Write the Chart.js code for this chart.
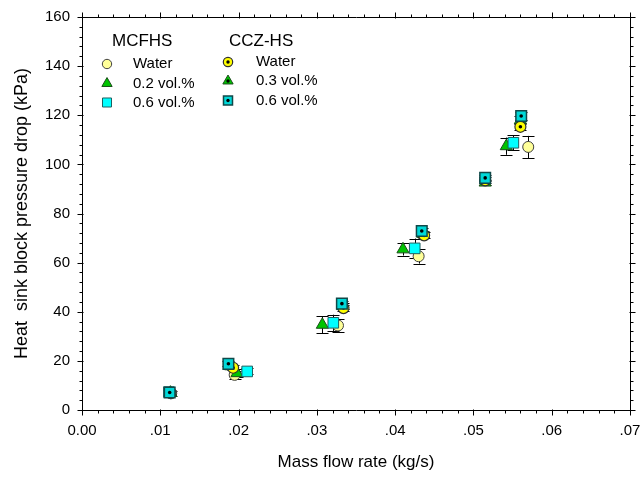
<!DOCTYPE html>
<html>
<head>
<meta charset="utf-8">
<script src="https://cdn.jsdelivr.net/npm/chart.js@4.4.0/dist/chart.umd.min.js"></script>
<style>
  body { margin: 0; background: #fff; }
  #wrap { width: 640px; height: 478px; }
</style>
</head>
<body>
<div id="wrap"><canvas id="grafico" width="640" height="478"></canvas></div>
<script>
// ---- dados ----
// MCFHS
var mcAguaX = [0.0114, 0.0195, 0.0327, 0.0430, 0.0570];
var mcAguaY = [6.8, 14.3, 34.4, 62.6, 107.1];
var mcAguaErr = [1.0, 1.5, 2.5, 3.0, 4.5];
var mc02X = [0.0113, 0.0198, 0.0307, 0.0410, 0.0542];
var mc02Y = [7.0, 15.0, 34.7, 65.4, 107.4];
var mc02Err = [1.0, 1.5, 3.5, 2.5, 3.5];
var mc06X = [0.0111, 0.0211, 0.0321, 0.0425, 0.0551];
var mc06Y = [7.3, 15.7, 35.5, 65.8, 108.8];
var mc06Err = [1.0, 1.2, 3.3, 4.0, 3.0];
// CCZ-HS
var czAguaX = [0.0113, 0.0193, 0.0334, 0.0437, 0.0515, 0.0560];
var czAguaY = [6.9, 17.2, 41.5, 71.1, 93.5, 115.3];
var czAguaErr = [0.8, 1.0, 1.2, 1.2, 1.2, 1.5];
var cz03X = [0.0113, 0.0190, 0.0333, 0.0435, 0.0515, 0.0560];
var cz03Y = [7.0, 17.8, 42.3, 71.8, 92.6, 118.0];
var cz03Err = [0.8, 1.0, 1.2, 1.2, 1.2, 1.5];
var cz06X = [0.0112, 0.0187, 0.0332, 0.0434, 0.0515, 0.0561];
var cz06Y = [7.1, 18.8, 43.3, 72.9, 94.5, 119.7];
var cz06Err = [0.8, 1.0, 1.2, 1.2, 1.2, 1.5];

var xTicks = [0, 0.01, 0.02, 0.03, 0.04, 0.05, 0.06, 0.07];
var yTicks = [0, 20, 40, 60, 80, 100, 120, 140, 160];

var fonte = "'Liberation Sans', Arial, sans-serif";

function pontos(xs, ys) {
  return xs.map(function (x, i) { return { x: x, y: ys[i] }; });
}

var estilos = {
  mcAgua: { pointStyle: 'circle', radius: 5.5, backgroundColor: '#ffff99', borderColor: '#404040', borderWidth: 1 },
  mc02:   { pointStyle: 'triangle', radius: 7, backgroundColor: '#00c400', borderColor: '#1a4d1a', borderWidth: 1 },
  mc06:   { pointStyle: 'rect', radius: 7.5, backgroundColor: '#00ffff', borderColor: '#206060', borderWidth: 1 },
  czAgua: { pointStyle: 'circle', radius: 5.5, backgroundColor: '#ffff00', borderColor: '#303030', borderWidth: 1.2 },
  cz03:   { pointStyle: 'triangle', radius: 7, backgroundColor: '#00c400', borderColor: '#1a4d1a', borderWidth: 1 },
  cz06:   { pointStyle: 'rect', radius: 7.5, backgroundColor: '#00d8d8', borderColor: '#104848', borderWidth: 1.5 }
};

function serie(nome, xs, ys, errs, est, ordem) {
  return {
    label: nome,
    data: pontos(xs, ys),
    erros: errs,
    order: ordem,
    showLine: false,
    pointStyle: est.pointStyle,
    pointRadius: est.radius,
    pointHoverRadius: est.radius,
    pointBackgroundColor: est.backgroundColor,
    pointBorderColor: est.borderColor,
    pointBorderWidth: est.borderWidth
  };
}

function ponto(nome, xs, ys, ordem) {
  return {
    label: nome,
    data: pontos(xs, ys),
    order: ordem,
    showLine: false,
    pointStyle: 'circle',
    pointRadius: 1.8,
    pointHoverRadius: 1.8,
    pointBackgroundColor: '#000',
    pointBorderColor: '#000',
    pointBorderWidth: 0
  };
}

// barras de erro, desenhadas antes dos marcadores
var barrasErro = {
  id: 'barrasErro',
  beforeDatasetsDraw: function (chart) {
    var ctx = chart.ctx;
    var ys = chart.scales.y;
    ctx.save();
    ctx.strokeStyle = '#000';
    ctx.lineWidth = 1;
    chart.data.datasets.forEach(function (ds, i) {
      if (!ds.erros) return;
      var meta = chart.getDatasetMeta(i);
      meta.data.forEach(function (el, j) {
        var v = ds.data[j].y, e = ds.erros[j];
        var yt = ys.getPixelForValue(v + e), yb = ys.getPixelForValue(v - e);
        var x = Math.round(el.x) + 0.5;
        ctx.beginPath();
        ctx.moveTo(x, yt); ctx.lineTo(x, yb);
        ctx.moveTo(x - 6, Math.round(yt) + 0.5); ctx.lineTo(x + 6, Math.round(yt) + 0.5);
        ctx.moveTo(x - 6, Math.round(yb) + 0.5); ctx.lineTo(x + 6, Math.round(yb) + 0.5);
        ctx.stroke();
      });
    });
    ctx.restore();
  }
};

// moldura e marcas dos eixos nos quatro lados
var moldura = {
  id: 'moldura',
  afterDraw: function (chart) {
    var ctx = chart.ctx, a = chart.chartArea;
    var xs = chart.scales.x, ys = chart.scales.y;
    var L = Math.round(a.left) + 0.5, R = Math.round(a.right) + 0.5;
    var T = Math.round(a.top) + 0.5, B = Math.round(a.bottom) + 0.5;
    ctx.save();
    ctx.strokeStyle = '#000';
    ctx.lineWidth = 1;
    ctx.beginPath();
    ctx.rect(L, T, R - L, B - T);
    ctx.stroke();
    ctx.beginPath();
    var i, px, maior;
    for (i = 0; i <= 35; i++) {
      px = Math.round(xs.getPixelForValue(i * 0.002)) + 0.5;
      maior = (i % 5 === 0);
      var c = maior ? 5 : 3;
      ctx.moveTo(px, B + c); ctx.lineTo(px, B - (maior ? 1 : 0));
      ctx.moveTo(px, T - c); ctx.lineTo(px, T + (maior ? 1 : 0));
    }
    for (i = 0; i <= 40; i++) {
      px = Math.round(ys.getPixelForValue(i * 4)) + 0.5;
      maior = (i % 5 === 0);
      var d = maior ? 5 : 3;
      ctx.moveTo(L - d, px); ctx.lineTo(L + (maior ? 1 : 0), px);
      ctx.moveTo(R + d, px); ctx.lineTo(R - (maior ? 1 : 0), px);
    }
    ctx.stroke();

    // legenda em duas colunas
    ctx.fillStyle = '#000';
    ctx.textBaseline = 'middle';
    ctx.textAlign = 'left';
    ctx.font = '17px ' + fonte;
    ctx.fillText('MCFHS', 112, 41);
    ctx.fillText('CCZ-HS', 229, 41);
    ctx.font = '15px ' + fonte;
    var col1 = [['Water', estilos.mcAgua, false], ['0.2 vol.%', estilos.mc02, false], ['0.6 vol.%', estilos.mc06, false]];
    var col2 = [['Water', estilos.czAgua, true], ['0.3 vol.%', estilos.cz03, true], ['0.6 vol.%', estilos.cz06, true]];
    var lin1 = [64, 83.5, 102.5], lin2 = [62, 81, 100.5];
    function item(txt, est, comPonto, mx, tx, y) {
      ctx.fillStyle = est.backgroundColor;
      ctx.strokeStyle = est.borderColor;
      ctx.lineWidth = est.borderWidth;
      Chart.helpers.drawPoint(ctx, { pointStyle: est.pointStyle, radius: est.radius * 0.85, borderWidth: est.borderWidth, rotation: 0 }, mx, y);
      if (comPonto) {
        ctx.fillStyle = '#000';
        ctx.beginPath(); ctx.arc(mx, y, 1.7, 0, Math.PI * 2); ctx.fill();
      }
      ctx.fillStyle = '#000';
      ctx.fillText(txt, tx, y);
    }
    col1.forEach(function (c, k) { item(c[0], c[1], c[2], 107, 133, lin1[k]); });
    col2.forEach(function (c, k) { item(c[0], c[1], c[2], 228, 256, lin2[k]); });
    ctx.restore();
  }
};

function semSobra(s) {
  s.paddingLeft = 0; s.paddingRight = 0; s.paddingTop = 0; s.paddingBottom = 0;
}

var grafico = new Chart(document.getElementById('grafico'), {
  type: 'scatter',
  data: {
    datasets: [
      ponto('dot06', cz06X, cz06Y, 1),
      serie('CCZ-HS 0.6 vol.%', cz06X, cz06Y, cz06Err, estilos.cz06, 2),
      ponto('dotAgua', czAguaX, czAguaY, 3),
      serie('CCZ-HS Water', czAguaX, czAguaY, czAguaErr, estilos.czAgua, 4),
      ponto('dot03', cz03X, cz03Y, 5),
      serie('CCZ-HS 0.3 vol.%', cz03X, cz03Y, cz03Err, estilos.cz03, 6),
      serie('MCFHS 0.6 vol.%', mc06X, mc06Y, mc06Err, estilos.mc06, 7),
      serie('MCFHS 0.2 vol.%', mc02X, mc02Y, mc02Err, estilos.mc02, 8),
      serie('MCFHS Water', mcAguaX, mcAguaY, mcAguaErr, estilos.mcAgua, 9)
    ]
  },
  options: {
    responsive: false,
    animation: false,
    layout: { padding: { top: 17, right: 10, left: 0, bottom: 0 } },
    plugins: { legend: { display: false }, tooltip: { enabled: false } },
    scales: {
      x: {
        type: 'linear',
        min: 0, max: 0.07,
        afterBuildTicks: function (s) { s.ticks = xTicks.map(function (v) { return { value: v }; }); },
        afterFit: function (s) { s.height = 68; semSobra(s); },
        grid: { display: false, drawTicks: false, tickLength: 0 },
        border: { display: false },
        ticks: {
          autoSkip: false, maxRotation: 0, padding: 12,
          color: '#000', font: { family: fonte, size: 15 },
          callback: function (v) { return v === 0 ? '0.00' : v.toFixed(2).replace(/^0/, ''); }
        },
        title: {
          display: true, text: 'Mass flow rate (kg/s)', color: '#000',
          font: { family: fonte, size: 17 }, padding: { top: 0, bottom: 5 }
        }
      },
      y: {
        min: 0, max: 160,
        afterBuildTicks: function (s) { s.ticks = yTicks.map(function (v) { return { value: v }; }); },
        afterFit: function (s) { s.width = 82; semSobra(s); },
        grid: { display: false, drawTicks: false, tickLength: 0 },
        border: { display: false },
        ticks: { padding: 12, color: '#000', font: { family: fonte, size: 15 } },
        title: {
          display: true, text: 'Heat  sink block pressure drop (kPa)', color: '#000',
          font: { family: fonte, size: 18 }, padding: { top: 11, bottom: 0 }
        }
      }
    }
  },
  plugins: [barrasErro, moldura]
});
</script>
</body>
</html>
